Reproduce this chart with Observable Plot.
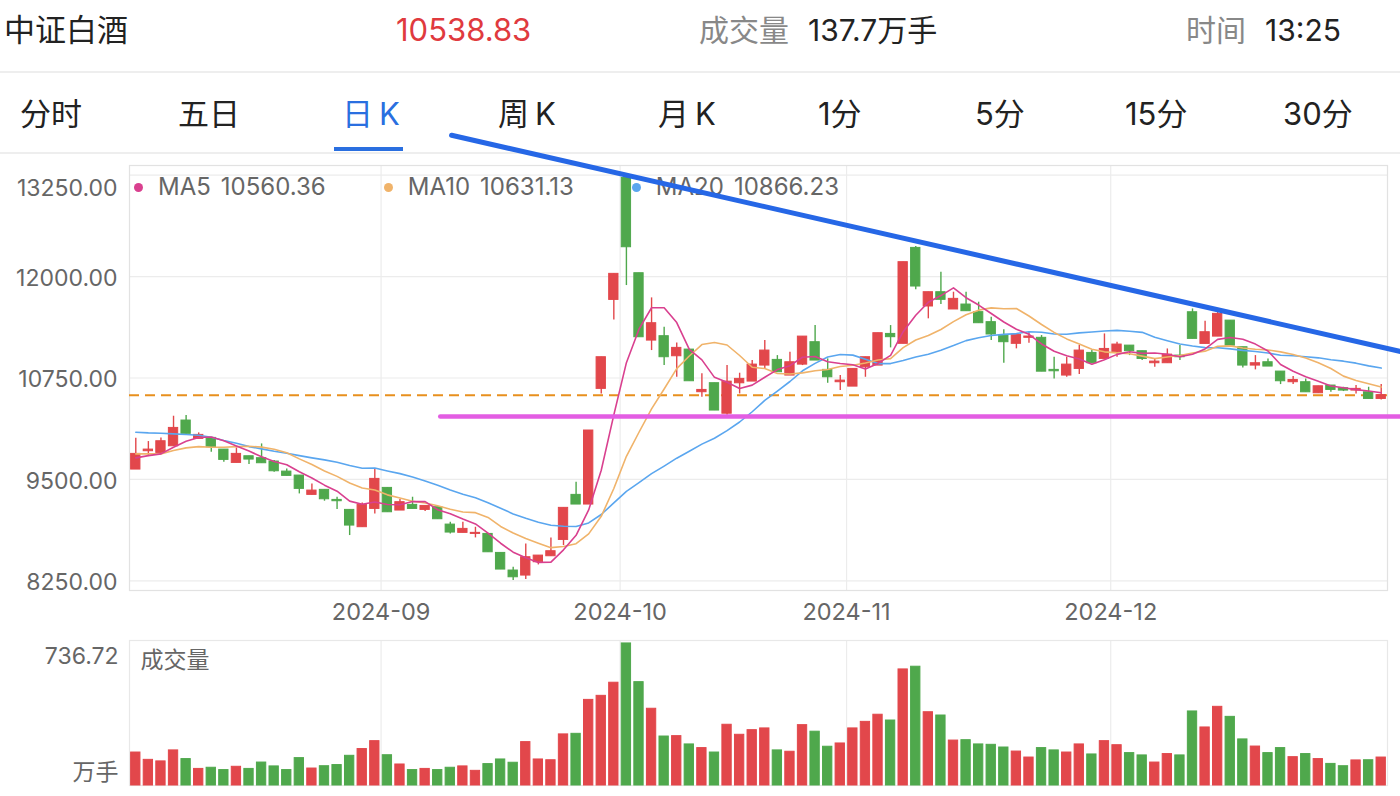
<!DOCTYPE html>
<html><head><meta charset="utf-8">
<script src="https://cdn.jsdelivr.net/npm/d3@7"></script>
<script src="https://cdn.jsdelivr.net/npm/@observablehq/plot@0.6"></script>
<style>
html,body{margin:0;padding:0;width:1400px;height:796px;overflow:hidden;background:#fff;}
#page{position:relative;width:1400px;height:796px;font-family:Inter,"Noto Sans CJK SC",sans-serif;}
.t{position:absolute;white-space:nowrap;height:40px;line-height:40px;}
.hdr{top:10px;font-size:30px;color:#222;}
.tab{top:94px;font-size:31px;color:#222;}
.grey{color:#888;}
.hline{position:absolute;left:0;width:1400px;height:2px;background:#eeeeee;}
#legend{position:absolute;left:134px;top:175px;height:24px;line-height:24px;font-size:24px;color:#666;white-space:nowrap;display:flex;align-items:center;}
#legend .item{display:flex;align-items:center;margin-right:58px;}
#legend .dot{width:9px;height:9px;border-radius:50%;margin-right:15px;}
#legend .val{margin-left:10px;}
#price{position:absolute;left:0;top:152px;z-index:2;}
#vol{position:absolute;left:0;top:630px;z-index:2;}
</style></head><body>
<div id="page">
  <div class="t hdr" style="left:4px;font-size:31px;">中证白酒</div>
  <div class="t hdr" style="left:396px;color:#e03a3e;font-size:31px;">10538.83</div>
  <div class="t hdr grey" style="left:699px;">成交量</div>
  <div class="t hdr" style="left:808px;">137.7万手</div>
  <div class="t hdr grey" style="left:1186px;">时间</div>
  <div class="t hdr" style="left:1265px;">13:25</div>
  <div class="hline" style="top:71px;"></div>
  <div class="t tab" style="left:20px;">分时</div>
  <div class="t tab" style="left:178px;">五日</div>
  <div class="t tab" style="left:342px;color:#2a6fe0;">日<span style="margin-left:6px">K</span></div>
  <div class="t tab" style="left:498px;">周<span style="margin-left:6px">K</span></div>
  <div class="t tab" style="left:658px;">月<span style="margin-left:6px">K</span></div>
  <div class="t tab" style="left:818px;">1分</div>
  <div class="t tab" style="left:975px;">5分</div>
  <div class="t tab" style="left:1125px;">15分</div>
  <div class="t tab" style="left:1283px;">30分</div>
  <div style="position:absolute;left:334px;top:147px;width:69px;height:4px;background:#2a6fe0;"></div>
  <div class="hline" style="top:152px;"></div>
  <div id="legend"></div>
  <div id="price"></div>
  <div id="vol"></div>
</div>
<script>
// ---- trading days (categories) ----
const augDays = [5,6,7,8,9,12,13,14,15,16,19,20,21,22,23,26,27,28,29,30];
const sepDays = [2,3,4,5,6,9,10,11,12,13,18,19,20,23,24,25,26,27,30];
const octDays = [8,9,10,11,14,15,16,17,18,21,22,23,24,25,28,29,30,31];
const novDays = [1,4,5,6,7,8,11,12,13,14,15,18,19,20,21,22,25,26,27,28,29];
const decDays = [2,3,4,5,6,9,10,11,12,13,16,17,18,19,20,23,24,25,26,27,30,31];

// ---- OHLC values ----
const open = [9622,9848,9827,9909,10226,10000,10012,9868,9704,9786,
9762,9721,9597,9548,9310,9372,9248,9125,8912,9137,
9396,9117,9187,9125,9158,8944,8842,8829,8829,8595,
8378,8316,8480,8554,8755,9310,9191,10616,11712,13215,
12041,11211,11265,11018,11100,10575,10686,10310,10685,10706,
10903,10973,10780,10915,11191,10850,10698,10644,10883,10903,
11293,11171,12353,11631,11807,11594,11655,11561,11438,11273,
11171,11245,11245,10850,10780,10862,11059,10985,11067,11149,
11080,10932,10932,11026,11560,11170,11260,11457,11129,10903,
10944,10829,10698,10698,10562,10657,10624,10595,10574,10492];
const high = [10008,9967,10012,10279,10287,10074,10012,9868,9889,9786,
9938,9733,9630,9548,9445,9372,9281,9125,9211,9630,
9400,9253,9281,9174,9158,8973,8973,8911,8829,8595,
8419,8706,8562,8780,9150,9466,10103,11006,12033,13245,
12041,11737,11375,11182,11100,10801,10686,10903,10809,10965,
11211,11026,11067,11260,11396,10985,10780,10862,11006,11302,
11396,12177,12370,11807,12054,11807,11807,11684,11499,11343,
11281,11314,11273,11006,11006,11149,11088,11293,11191,11149,
11080,10985,11108,11149,11601,11449,11573,11457,11129,11026,
10985,10829,10767,10739,10648,10657,10636,10657,10636,10669];
const low = [9622,9782,9827,9909,10058,10000,9836,9712,9704,9684,
9700,9589,9544,9322,9310,9232,9129,8809,8912,9076,
9096,9117,9137,9104,9010,8829,8842,8780,8603,8390,
8254,8267,8447,8554,8686,9191,9191,10554,11466,11889,
11252,11088,10903,10760,10710,10513,10349,10290,10554,10706,
10862,10821,10780,10903,10965,10685,10595,10644,10759,10903,
11121,11171,11836,11479,11655,11594,11573,11425,11212,10932,
11109,11179,10828,10739,10759,10792,10932,10985,11006,11026,
10965,10882,10932,10965,11232,11170,11260,11149,10874,10850,
10891,10669,10669,10574,10562,10574,10583,10554,10492,10480];
const close = [9815,9868,9971,10135,10062,10049,9897,9741,9815,9745,
9700,9601,9544,9384,9363,9256,9232,8932,9187,9507,
9096,9220,9137,9174,9010,8846,8891,8842,8603,8390,
8295,8542,8562,8616,9150,9191,10103,11006,12033,12361,
11252,11425,11006,11121,10710,10603,10349,10705,10739,10915,
11088,10821,10944,11260,10965,10759,10718,10862,11006,11302,
11253,12177,11877,11807,11713,11725,11573,11425,11286,11191,
11281,11261,10828,10833,10915,11088,10932,11108,11162,11080,
10985,10952,11038,11006,11232,11314,11540,11149,10903,10932,
10891,10710,10726,10574,10648,10603,10595,10616,10492,10538.83];

// ---- volume (万手) ----
const volume = [171,133,125,182,137,86,92,80,97,86,
119,99,80,142,88,100,106,154,189,230,
157,109,80,86,80,92,99,76,111,135,
118,225,135,131,265,268,444,465,533,736.72,
536,398,254,256,213,194,171,315,263,287,
296,182,175,313,279,201,218,296,330,367,
337,602,616,380,363,233,235,213,211,197,
176,145,194,182,171,213,161,230,209,168,
156,119,163,156,384,301,408,356,239,202,
168,194,147,163,137,112,100,130,131,145];

// ---- moving-average values before a full window exists ----
const ma5Head = [9766,9794,9815,9897];
const ma10Head = [9815,9815,9815,9856,9889,9905,9897,9897,9905];
const ma20Head = [10082,10074,10070,10062,10053,10045,10020,9979,9946,9905,9877,9848,9823,9794,9766,9741,9712,9671,9638];

// ---- labels ----
const yTicks = [8250, 9500, 10750, 12000, 13250];
const lastPrice = 10538.83;
const volMaxLabel = "736.72";
const legendItems = [
  {name: "MA5", value: "10560.36", color: "#d9408f"},
  {name: "MA10", value: "10631.13", color: "#f0b36a"},
  {name: "MA20", value: "10866.23", color: "#5aa6ef"}
];
// drawn annotation lines (in chart units: day index, price)
const supportLine = {i: [24.2, 100.6], price: [10276, 10276]};
const trendLine = {i: [25.1, 100.6], price: [13740, 11075]};

// ---- build table ----
const pad = d => String(d).padStart(2, "0");
const dates = [
  ...augDays.map(d => `2024-08-${pad(d)}`),
  ...sepDays.map(d => `2024-09-${pad(d)}`),
  ...octDays.map(d => `2024-10-${pad(d)}`),
  ...novDays.map(d => `2024-11-${pad(d)}`),
  ...decDays.map(d => `2024-12-${pad(d)}`)
];
const ma = (k, head) => close.map((c, i) => i < k - 1 ? head[i] : d3.mean(close.slice(i - k + 1, i + 1)));
const ma5 = ma(5, ma5Head), ma10 = ma(10, ma10Head), ma20 = ma(20, ma20Head);
const rows = dates.map((date, i) => ({
  i, date, open: open[i], high: high[i], low: low[i], close: close[i], vol: volume[i],
  up: close[i] >= open[i], ma5: ma5[i], ma10: ma10[i], ma20: ma20[i]
}));
const monthStarts = rows.filter((d, i) => i > 0 && d.date.slice(0, 7) !== rows[i - 1].date.slice(0, 7));

const UP = "#e2474b", DOWN = "#4fa84c";
const GRID = "#ececec";
const FONT = "Inter, 'Noto Sans CJK SC', sans-serif";
const col = d => d.up ? UP : DOWN;
const half = 0.37;

// legend
const leg = document.getElementById("legend");
legendItems.forEach(it => {
  const s = document.createElement("div");
  s.className = "item";
  s.innerHTML = `<span class="dot" style="background:${it.color}"></span><span>${it.name}</span><span class="val">${it.value}</span>`;
  leg.appendChild(s);
});

const price = Plot.plot({
  width: 1400, height: 478,
  marginLeft: 129, marginRight: 13, marginTop: 13, marginBottom: 40,
  x: {domain: [-0.5, 99.5], axis: null},
  y: {domain: [8132, 13368], axis: null},
  style: {background: "transparent", overflow: "visible", fontFamily: FONT},
  marks: [
    Plot.ruleY(yTicks, {stroke: GRID, strokeWidth: 1.2}),
    Plot.ruleX(monthStarts, {x: d => d.i - 0.5, stroke: GRID, strokeWidth: 1.2}),
    Plot.frame({stroke: "#e2e2e2", strokeWidth: 1.2}),
    Plot.text(yTicks.slice(0, -1), {y: d => d, frameAnchor: "left", lineAnchor: "middle", dx: -12, dy: 2, textAnchor: "end", text: d => d.toFixed(2), fontSize: 23, fill: "#666"}),
    Plot.text(yTicks.slice(-1), {y: d => d, frameAnchor: "left", lineAnchor: "middle", dx: -12, dy: 14, textAnchor: "end", text: d => d.toFixed(2), fontSize: 23, fill: "#666"}),
    Plot.text(monthStarts, {x: d => d.i - 0.5, frameAnchor: "bottom", lineAnchor: "middle", dy: 22, text: d => d.date.slice(0, 7), fontSize: 23.5, fill: "#666"}),
    Plot.ruleY([lastPrice], {stroke: "#e8901e", strokeWidth: 2, strokeDasharray: "10,6"}),
    Plot.ruleX(rows, {x: "i", y1: "low", y2: "high", stroke: col, strokeWidth: 1.4}),
    Plot.rect(rows, {x1: d => d.i - half, x2: d => d.i + half, y1: d => Math.min(d.open, d.close), y2: d => Math.max(d.open, d.close), fill: col, stroke: col, strokeWidth: 1}),
    Plot.line(rows, {x: "i", y: "ma20", stroke: legendItems[2].color, strokeWidth: 1.6}),
    Plot.line(rows, {x: "i", y: "ma10", stroke: legendItems[1].color, strokeWidth: 1.6}),
    Plot.line(rows, {x: "i", y: "ma5", stroke: legendItems[0].color, strokeWidth: 1.6}),
    Plot.line(supportLine.i.map((v, k) => ({i: v, p: supportLine.price[k]})), {x: "i", y: "p", stroke: "#e35de3", strokeWidth: 4.5}),
    Plot.line(trendLine.i.map((v, k) => ({i: v, p: trendLine.price[k]})), {x: "i", y: "p", stroke: "#2667e6", strokeWidth: 5})
  ]
});
document.getElementById("price").appendChild(price);

const vol = Plot.plot({
  width: 1400, height: 166,
  marginLeft: 129, marginRight: 13, marginTop: 10, marginBottom: 11,
  x: {domain: [-0.5, 99.5], axis: null},
  y: {domain: [0, 752], axis: null},
  style: {background: "transparent", overflow: "visible", fontFamily: FONT},
  marks: [
    Plot.ruleX(monthStarts, {x: d => d.i - 0.5, stroke: GRID, strokeWidth: 1.2}),
    Plot.frame({stroke: "#e8e8e8", strokeWidth: 1.2}),
    Plot.rectY(rows, {x1: d => d.i - half, x2: d => d.i + half, y1: 0, y2: "vol", fill: col, stroke: col, strokeWidth: 1}),
    Plot.text([volMaxLabel], {frameAnchor: "top-left", lineAnchor: "middle", dx: -11, dy: 16, textAnchor: "end", text: d => d, fontSize: 23, fill: "#666"}),
    Plot.text(["万手"], {frameAnchor: "bottom-left", lineAnchor: "middle", dx: -11, dy: -13, textAnchor: "end", text: d => d, fontSize: 23, fill: "#666"}),
    Plot.text(["成交量"], {frameAnchor: "top-left", lineAnchor: "middle", dx: 11, dy: 20, textAnchor: "start", text: d => d, fontSize: 23, fill: "#666"})
  ]
});
document.getElementById("vol").appendChild(vol);
</script>
</body></html>
